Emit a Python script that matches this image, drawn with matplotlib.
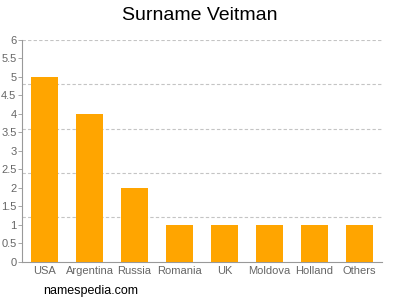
import matplotlib
matplotlib.use('Agg')
import numpy as np
import matplotlib.pyplot as plt

plt.rcParams['font.family'] = ['Liberation Sans', 'DejaVu Sans']

countries = ['USA', 'Argentina', 'Russia', 'Romania', 'UK', 'Moldova', 'Holland', 'Others']
counts = [5, 4, 2, 1, 1, 1, 1, 1]
yticks = [0, 0.5, 1, 1.5, 2, 2.5, 3, 3.5, 4, 4.5, 5, 5.5, 6]
ytick_labels = ['0', '0.5', '1', '1.5', '2', '2.5', '3', '3.5', '4', '4.5', '5', '5.5', '6']
grid_levels = [1.2, 2.4, 3.6, 4.8, 6.0]

fig = plt.figure(figsize=(4, 3), dpi=100)
ax = fig.add_axes([0.055, 0.127, 0.9, 0.74])

x = np.arange(len(countries))
ax.bar(x, counts, width=0.62, color='#FFA500', zorder=3)

for g in grid_levels:
    ax.axhline(g, color='#c4c4c4', linewidth=0.8, linestyle=(0, (3, 2)), zorder=1)

ax.set_xlim(-0.5, len(countries) - 0.5)
ax.set_ylim(0, 6)
ax.set_yticks(yticks)
ax.set_yticklabels(ytick_labels)
ax.set_xticks(x)
ax.set_xticklabels(countries)

ax.tick_params(axis='y', colors='#999999', labelsize=8, length=3, width=0.6, pad=1, labelcolor='#666666')
ax.tick_params(axis='x', length=0, labelsize=8, labelcolor='#666666', pad=3)

for s in ['top', 'right']:
    ax.spines[s].set_visible(False)
for s in ['left', 'bottom']:
    ax.spines[s].set_color('#999999')
    ax.spines[s].set_linewidth(0.8)

fig.text(0.5, 0.95, 'Surname Veitman', ha='center', va='center', fontsize=14)
fig.text(0.108, 0.03, 'namespedia.com', ha='left', va='center', fontsize=9)

plt.savefig('out.png', dpi=100)
plt.close()
